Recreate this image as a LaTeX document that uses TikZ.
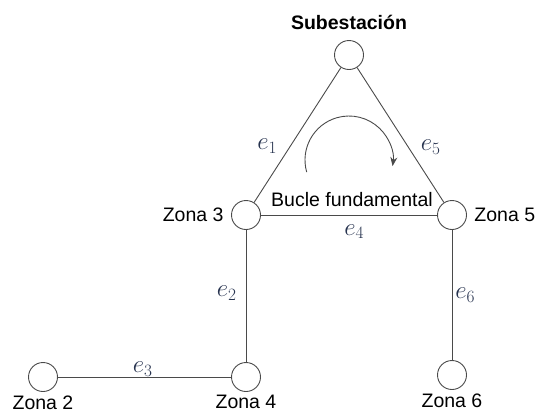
\documentclass[tikz,border=0pt]{standalone}
\usepackage{fontspec}
\setmainfont{Liberation Sans}
\usetikzlibrary{arrows.meta}
\definecolor{edgegray}{HTML}{4A4A4A}
\definecolor{labblue}{HTML}{27334F}
\begin{document}
\begin{tikzpicture}[x=1pt,y=-1pt,font=\fontsize{19.5}{21}\selectfont,
	zona/.style={circle,draw=edgegray,line width=0.9pt,fill=white,minimum size=29pt,inner sep=0pt},
	elab/.style={text=labblue,inner sep=1pt,font=\fontsize{26}{27}\selectfont},
	link/.style={draw=edgegray,line width=0.9pt}]
	\path[use as bounding box] (0,0) rectangle (538,416);
	\node[zona] (sub) at (349,55) {};
	\node[zona,label={[label distance=4pt]left:Zona 3}] (z3) at (246,215) {};
	\node[zona,label={[label distance=4pt]right:Zona 5}] (z5) at (452,215) {};
	\node[zona,label={[label distance=0pt]below:Zona 2}] (z2) at (43,377) {};
	\node[zona,label={[label distance=0pt]below:Zona 4}] (z4) at (246,377) {};
	\node[zona,label={[label distance=0pt]below:Zona 6}] (z6) at (452,375) {};
	\node[font=\fontsize{19.5}{21}\selectfont\bfseries] (subname) at (349,22) {Subestación};
	\node (bucle) at (352,200) {Bucle fundamental};
	\draw[link] (sub) -- node[elab,pos=0.58,left=12pt] {$e_1$} (z3);
	\draw[link] (sub) -- node[elab,pos=0.59,right=11pt] {$e_5$} (z5);
	\draw[link] (z3) -- node[elab,pos=0.53,below=8pt] {$e_4$} (z5);
	\draw[link] (z3) -- node[elab,pos=0.48,left=8pt] {$e_2$} (z4);
	\draw[link] (z2) -- node[elab,pos=0.49,above=-1pt] {$e_3$} (z4);
	\draw[link] (z5) -- node[elab,pos=0.5,right=2pt] {$e_6$} (z6);
	\coordinate (loop) at (349,160);
	\draw[edgegray,line width=0.9pt,-{Stealth[length=9pt,width=7pt]}]
		([shift={(164:44)}]loop) arc[start angle=164,end angle=368,radius=44];
\end{tikzpicture}
\end{document}
